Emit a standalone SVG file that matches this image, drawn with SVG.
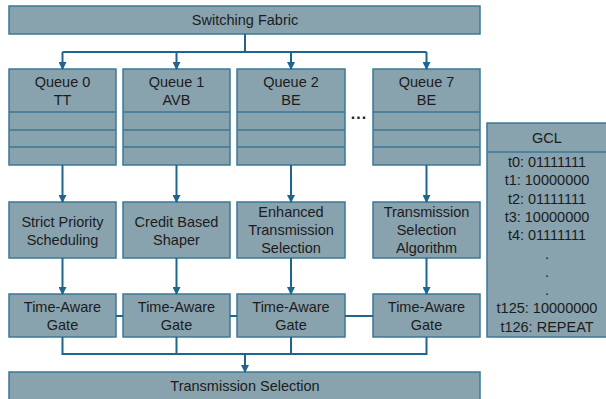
<svg xmlns="http://www.w3.org/2000/svg" width="606" height="399" viewBox="0 0 606 399">
  <defs>
    <marker id="arrow" viewBox="0 0 8 8" refX="7" refY="4" markerWidth="8" markerHeight="8" markerUnits="userSpaceOnUse" orient="auto">
      <path d="M0,0 L8,4 L0,8 Z" fill="#1d6690"/>
    </marker>
  </defs>
  <style>
    .box { fill: #88a2ae; stroke: #3a7898; stroke-width: 1.5; }
    .div { stroke: #3a7898; stroke-width: 1.5; fill: none; }
    .wire { stroke: #1d6690; stroke-width: 2; fill: none; }
    text { font-family: "Liberation Sans", Arial, sans-serif; font-size: 14.5px; fill: #1c1c1c; text-anchor: middle; }
  </style>
  <rect width="606" height="399" fill="#ffffff"/>

  <!-- top fabric -->
  <g id="switching-fabric">
    <rect class="box" x="9" y="6" width="471" height="28"/>
    <text x="245" y="25">Switching Fabric</text>
  </g>

  <!-- queues -->
  <g id="queue0">
    <rect class="box" x="9" y="69" width="107" height="96"/>
    <path class="div" d="M9,112 H116 M9,130 H116 M9,147 H116"/>
    <text x="62.5" y="87">Queue 0</text>
    <text x="62.5" y="104.5">TT</text>
  </g>
  <g id="queue1">
    <rect class="box" x="123" y="69" width="107" height="96"/>
    <path class="div" d="M123,112 H230 M123,130 H230 M123,147 H230"/>
    <text x="176.5" y="87">Queue 1</text>
    <text x="176.5" y="104.5">AVB</text>
  </g>
  <g id="queue2">
    <rect class="box" x="237" y="69" width="108" height="96"/>
    <path class="div" d="M237,112 H345 M237,130 H345 M237,147 H345"/>
    <text x="291" y="87">Queue 2</text>
    <text x="291" y="104.5">BE</text>
  </g>
  <g id="ellipsis">
    <text x="359" y="119" style="font-size:16px;font-weight:bold;letter-spacing:1px">...</text>
  </g>
  <g id="queue7">
    <rect class="box" x="373" y="69" width="107" height="96"/>
    <path class="div" d="M373,112 H480 M373,130 H480 M373,147 H480"/>
    <text x="426.5" y="87">Queue 7</text>
    <text x="426.5" y="104.5">BE</text>
  </g>

  <!-- selection algorithms -->
  <g id="strict-priority">
    <rect class="box" x="9" y="202" width="107" height="56"/>
    <text x="62.5" y="227">Strict Priority</text>
    <text x="62.5" y="244.5">Scheduling</text>
  </g>
  <g id="credit-based">
    <rect class="box" x="123" y="202" width="107" height="56"/>
    <text x="176.5" y="227">Credit Based</text>
    <text x="176.5" y="244.5">Shaper</text>
  </g>
  <g id="enhanced-ts">
    <rect class="box" x="237" y="202" width="108" height="56"/>
    <text x="291" y="217">Enhanced</text>
    <text x="291" y="235">Transmission</text>
    <text x="291" y="253">Selection</text>
  </g>
  <g id="tsa">
    <rect class="box" x="373" y="202" width="107" height="56"/>
    <text x="426.5" y="217">Transmission</text>
    <text x="426.5" y="235">Selection</text>
    <text x="426.5" y="253">Algorithm</text>
  </g>

  <!-- gates -->
  <g id="gate0">
    <rect class="box" x="9" y="294" width="107" height="43"/>
    <text x="62.5" y="312">Time-Aware</text>
    <text x="62.5" y="330">Gate</text>
  </g>
  <g id="gate1">
    <rect class="box" x="123" y="294" width="107" height="43"/>
    <text x="176.5" y="312">Time-Aware</text>
    <text x="176.5" y="330">Gate</text>
  </g>
  <g id="gate2">
    <rect class="box" x="237" y="294" width="108" height="43"/>
    <text x="291" y="312">Time-Aware</text>
    <text x="291" y="330">Gate</text>
  </g>
  <g id="gate7">
    <rect class="box" x="373" y="294" width="107" height="43"/>
    <text x="426.5" y="312">Time-Aware</text>
    <text x="426.5" y="330">Gate</text>
  </g>

  <!-- output stage -->
  <g id="transmission-selection">
    <rect class="box" x="9" y="372" width="471" height="30"/>
    <text x="245" y="391">Transmission Selection</text>
  </g>

  <!-- gate control list -->
  <g id="gcl">
    <rect class="box" x="487" y="123" width="121" height="214"/>
    <path class="div" d="M487,152 H608"/>
    <text x="547" y="143">GCL</text>
    <text x="547" y="167">t0: 01111111</text>
    <text x="547" y="185.3">t1: 10000000</text>
    <text x="547" y="203.6">t2: 01111111</text>
    <text x="547" y="221.9">t3: 10000000</text>
    <text x="547" y="240.2">t4: 01111111</text>
    <text x="547" y="258.5">.</text>
    <text x="547" y="276.8">.</text>
    <text x="547" y="295.1">.</text>
    <text x="547" y="313.4">t125: 10000000</text>
    <text x="547" y="331.7">t126: REPEAT</text>
  </g>

  <!-- connectors -->
  <g id="connectors">
    <path class="wire" d="M245,34 V52 M62.5,52 H426.5"/>
    <path class="wire" d="M62.5,52 V69" marker-end="url(#arrow)"/>
    <path class="wire" d="M176.5,52 V69" marker-end="url(#arrow)"/>
    <path class="wire" d="M291,52 V69" marker-end="url(#arrow)"/>
    <path class="wire" d="M426.5,52 V69" marker-end="url(#arrow)"/>

    <path class="wire" d="M62.5,165 V202" marker-end="url(#arrow)"/>
    <path class="wire" d="M176.5,165 V202" marker-end="url(#arrow)"/>
    <path class="wire" d="M291,165 V202" marker-end="url(#arrow)"/>
    <path class="wire" d="M426.5,165 V202" marker-end="url(#arrow)"/>

    <path class="wire" d="M62.5,258 V294" marker-end="url(#arrow)"/>
    <path class="wire" d="M176.5,258 V294" marker-end="url(#arrow)"/>
    <path class="wire" d="M291,258 V294" marker-end="url(#arrow)"/>
    <path class="wire" d="M426.5,258 V294" marker-end="url(#arrow)"/>

    <path class="wire" d="M116,316 H123 M230,316 H237 M345,316 H373"/>

    <path class="wire" d="M62.5,337 V354 H426.5 V337 M176.5,337 V354 M291,337 V354"/>
    <path class="wire" d="M245,354 V372" marker-end="url(#arrow)"/>
  </g>
</svg>
